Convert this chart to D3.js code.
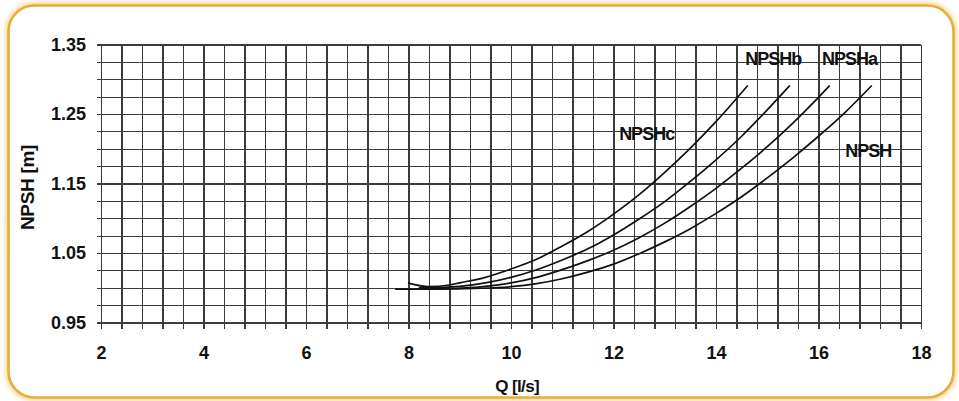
<!DOCTYPE html>
<html>
<head>
<meta charset="utf-8">
<script src="https://cdn.jsdelivr.net/npm/d3@7"></script>
<style>
  html, body { margin: 0; padding: 0; background: #ffffff; }
  svg { display: block; }
  text { font-family: "Liberation Sans", Arial, sans-serif; font-weight: bold; fill: #111; }
</style>
</head>
<body>
<svg id="chart" width="959" height="401"></svg>
<script>
// ---- Data ----
const xTickLabels = [2, 4, 6, 8, 10, 12, 14, 16, 18];
const yTickLabels = [0.95, 1.05, 1.15, 1.25, 1.35];
const seriesNames = ["NPSHc", "NPSHb", "NPSHa", "NPSH"];

const npshcQ = [7.99, 8.4, 8.8, 9.0, 9.5, 10.0, 10.5, 11.0, 11.5, 12.0, 12.5, 13.0, 13.5, 14.0, 14.62];
const npshcV = [1.007, 1.0015, 1.004, 1.007, 1.015, 1.027, 1.041, 1.060, 1.081, 1.106, 1.134, 1.166, 1.201, 1.239, 1.291];

const npshbQ = [8.2, 8.4, 9.0, 9.5, 10.0, 10.5, 11.0, 11.5, 12.0, 12.5, 13.0, 13.5, 14.0, 14.5, 15.0, 15.44];
const npshbV = [1.000, 1.000, 1.002, 1.007, 1.015, 1.026, 1.040, 1.056, 1.076, 1.099, 1.124, 1.153, 1.184, 1.218, 1.256, 1.291];

const npshaQ = [8.4, 8.8, 9.5, 10.0, 10.5, 11.0, 11.5, 12.0, 12.5, 13.0, 13.5, 14.0, 14.5, 15.0, 15.5, 16.0, 16.22];
const npshaV = [0.999, 0.999, 1.002, 1.007, 1.015, 1.026, 1.039, 1.054, 1.072, 1.093, 1.117, 1.143, 1.172, 1.203, 1.237, 1.274, 1.291];

const npshQ = [7.74, 8.5, 9.3, 10.0, 10.5, 11.0, 11.5, 12.0, 12.5, 13.0, 13.5, 14.0, 14.5, 15.0, 15.5, 16.0, 16.5, 17.04];
const npshV = [0.998, 0.998, 0.999, 1.0015, 1.006, 1.013, 1.0225, 1.034, 1.049, 1.066, 1.085, 1.107, 1.131, 1.158, 1.187, 1.218, 1.251, 1.291];

// label anchor positions in data units (left edge / baseline)
const labelQ = [12.11, 14.57, 16.07, 16.52];
const labelV = [1.2126, 1.3205, 1.3205, 1.188];

// ---- Layout ----
const svg = d3.select("#chart");
const margin = { left: 101, top: 44.5, right: 38, bottom: 78.5 };
const W = 959, H = 401;
const width = W - margin.left - margin.right;   // 820
const height = H - margin.top - margin.bottom;  // 278

// Frame (rounded orange border with soft glow)
const defs = svg.append("defs");
const blur = defs.append("filter").attr("id", "glow").attr("x", "-5%").attr("y", "-5%").attr("width", "110%").attr("height", "110%");
blur.append("feGaussianBlur").attr("stdDeviation", 2.5);

svg.append("rect")
  .attr("x", 8.5).attr("y", 5.5).attr("width", 945).attr("height", 392)
  .attr("rx", 26).attr("ry", 26)
  .attr("fill", "none").attr("stroke", "#f3d48a").attr("stroke-width", 6)
  .attr("filter", "url(#glow)");
svg.append("rect")
  .attr("x", 8.5).attr("y", 5.5).attr("width", 945).attr("height", 392)
  .attr("rx", 26).attr("ry", 26)
  .attr("fill", "#ffffff").attr("stroke", "#e7ae3a").attr("stroke-width", 2.6);

const g = svg.append("g").attr("transform", `translate(${margin.left},${margin.top})`);

const x = d3.scaleLinear().domain([2, 18]).range([0, width]);
const y = d3.scaleLinear().domain([0.95, 1.35]).range([height, 0]);

const gridX = d3.range(0, 41).map(i => +(2 + 0.4 * i).toFixed(2));
const gridY = d3.range(0, 17).map(i => +(0.95 + 0.025 * i).toFixed(3));

const isLabelX = v => xTickLabels.some(t => Math.abs(t - v) < 1e-6);
const isLabelY = v => yTickLabels.some(t => Math.abs(t - v) < 1e-6);

// X grid + ticks + labels
const xAxis = d3.axisBottom(x)
  .tickValues(gridX)
  .tickSizeInner(-(height + 6))
  .tickSizeOuter(0)
  .tickPadding(18)
  .tickFormat(v => isLabelX(v) ? d3.format("d")(v) : "");
const gx = g.append("g").attr("transform", `translate(0,${height + 6})`).call(xAxis);
gx.select(".domain").remove();
gx.selectAll(".tick line").attr("stroke", "#3c3c3c").attr("stroke-width", 1.1).attr("shape-rendering", "crispEdges");
gx.selectAll(".tick text").attr("font-size", 18).attr("font-family", "Liberation Sans, Arial, sans-serif").attr("font-weight", "bold").attr("fill", "#111");

// Y grid + ticks + labels
const yAxis = d3.axisLeft(y)
  .tickValues(gridY)
  .tickSizeInner(-(width + 4))
  .tickSizeOuter(0)
  .tickPadding(11)
  .tickFormat(v => isLabelY(v) ? d3.format(".2f")(v) : "");
const gy = g.append("g").attr("transform", "translate(-4,0)").call(yAxis);
gy.select(".domain").remove();
gy.selectAll(".tick line").attr("stroke", "#3c3c3c").attr("stroke-width", 1.1).attr("shape-rendering", "crispEdges");
gy.selectAll(".tick text").attr("font-size", 18).attr("font-family", "Liberation Sans, Arial, sans-serif").attr("font-weight", "bold").attr("fill", "#111");

// Curves
const series = [
  { name: seriesNames[0], q: npshcQ, v: npshcV },
  { name: seriesNames[1], q: npshbQ, v: npshbV },
  { name: seriesNames[2], q: npshaQ, v: npshaV },
  { name: seriesNames[3], q: npshQ,  v: npshV  }
];
const line = d3.line().x(d => x(d[0])).y(d => y(d[1])).curve(d3.curveMonotoneX);
g.selectAll("path.curve")
  .data(series)
  .join("path")
  .attr("class", "curve")
  .attr("fill", "none")
  .attr("stroke", "#111")
  .attr("stroke-width", 1.7)
  .attr("d", s => line(s.q.map((q, i) => [q, s.v[i]])));

// Curve labels
g.selectAll("text.lbl")
  .data(seriesNames)
  .join("text")
  .attr("class", "lbl")
  .attr("x", (d, i) => x(labelQ[i]))
  .attr("y", (d, i) => y(labelV[i]))
  .attr("font-size", 18)
  .attr("letter-spacing", -1)
  .text(d => d);

// Axis titles
g.append("text")
  .attr("x", x(10.12))
  .attr("y", height + 69)
  .attr("text-anchor", "middle")
  .attr("font-size", 17)
  .attr("letter-spacing", -0.6)
  .text("Q [l/s]");

svg.append("text")
  .attr("transform", `translate(34,${margin.top + y(1.15) + 4}) rotate(-90)`)
  .attr("text-anchor", "middle")
  .attr("font-size", 19)
  .attr("letter-spacing", -0.3)
  .text("NPSH [m]");
</script>
</body>
</html>
